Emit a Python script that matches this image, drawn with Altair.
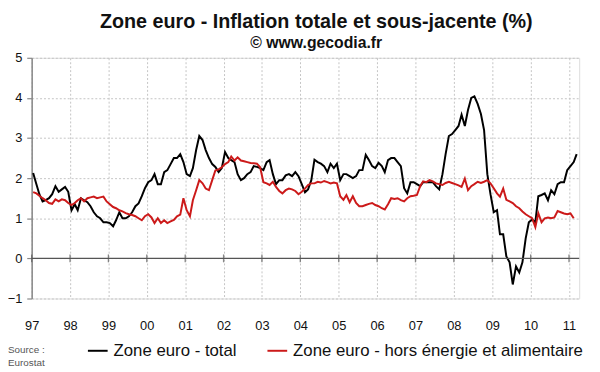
import altair as alt
import pandas as pd

# ---- data (annual rate, %), monthly from Jan 1997 ----
total_1997 = [2.13, 1.85, 1.6, 1.42, 1.45, 1.5, 1.6, 1.8, 1.66, 1.72, 1.78, 1.66]
total_1998 = [1.2, 1.35, 1.2, 1.5, 1.45, 1.4, 1.3, 1.15, 1.05, 1.0, 0.9, 0.9]
total_1999 = [0.88, 0.8, 0.95, 1.15, 1.0, 1.0, 1.05, 1.15, 1.3, 1.37, 1.55, 1.75]
total_2000 = [1.9, 1.95, 2.1, 1.85, 1.85, 2.15, 2.2, 2.35, 2.5, 2.5, 2.6, 2.4]
total_2001 = [2.1, 2.05, 2.25, 2.7, 3.05, 2.95, 2.7, 2.5, 2.35, 2.28, 2.15, 2.25]
total_2002 = [2.65, 2.5, 2.45, 2.4, 2.1, 1.95, 2.0, 2.1, 2.15, 2.3, 2.28, 2.25]
total_2003 = [2.2, 2.4, 2.45, 2.1, 1.85, 1.95, 1.95, 2.07, 2.1, 2.05, 2.15, 2.05]
total_2004 = [1.85, 1.65, 1.72, 1.95, 2.46, 2.4, 2.36, 2.3, 2.15, 2.36, 2.25, 2.36]
total_2005 = [1.95, 2.1, 2.1, 2.05, 2.0, 2.05, 2.2, 2.2, 2.58, 2.45, 2.3, 2.25]
total_2006 = [2.38, 2.3, 2.15, 2.45, 2.5, 2.5, 2.4, 2.3, 1.75, 1.62, 1.9, 1.9]
total_2007 = [1.85, 1.8, 1.9, 1.9, 1.9, 1.9, 1.8, 1.72, 2.1, 2.6, 3.05, 3.1]
total_2008 = [3.2, 3.3, 3.58, 3.3, 3.7, 4.0, 4.04, 3.85, 3.6, 3.2, 2.1, 1.6]
total_2009 = [1.15, 1.2, 0.6, 0.6, 0.05, -0.1, -0.65, -0.2, -0.35, -0.1, 0.5, 0.9]
total_2010 = [0.97, 0.9, 1.55, 1.58, 1.62, 1.45, 1.7, 1.6, 1.85, 1.9, 1.9, 2.2]
total_2011 = [2.3, 2.4, 2.6]

core_1997 = [1.65, 1.62, 1.56, 1.5, 1.45, 1.38, 1.36, 1.47, 1.42, 1.47, 1.45, 1.38]
core_1998 = [1.33, 1.38, 1.45, 1.5, 1.42, 1.5, 1.52, 1.54, 1.5, 1.52, 1.54, 1.42]
core_1999 = [1.35, 1.28, 1.25, 1.2, 1.17, 1.13, 1.1, 1.08, 1.05, 1.0, 0.95, 1.05]
core_2000 = [1.1, 1.02, 0.88, 1.0, 0.88, 0.95, 0.88, 0.92, 0.96, 1.05, 1.09, 1.5]
core_2001 = [1.2, 1.05, 1.45, 1.7, 1.95, 1.87, 1.74, 1.7, 1.95, 2.19, 2.22, 2.27]
core_2002 = [2.35, 2.4, 2.54, 2.44, 2.52, 2.44, 2.42, 2.4, 2.38, 2.37, 2.36, 2.27]
core_2003 = [1.9, 1.87, 1.83, 1.91, 1.78, 1.68, 1.62, 1.7, 1.74, 1.72, 1.68, 1.6]
core_2004 = [1.66, 1.74, 1.83, 1.87, 1.87, 1.91, 1.89, 1.93, 1.9, 1.87, 1.89, 1.87]
core_2005 = [1.55, 1.46, 1.58, 1.4, 1.55, 1.38, 1.3, 1.3, 1.33, 1.36, 1.38, 1.33]
core_2006 = [1.3, 1.25, 1.22, 1.35, 1.5, 1.48, 1.5, 1.45, 1.42, 1.5, 1.55, 1.56]
core_2007 = [1.58, 1.8, 1.92, 1.9, 1.95, 1.92, 1.87, 1.85, 1.83, 1.88, 1.91, 1.88]
core_2008 = [1.85, 1.82, 1.78, 1.99, 1.7, 1.8, 1.85, 1.91, 1.88, 1.91, 1.95, 1.87]
core_2009 = [1.75, 1.62, 1.54, 1.74, 1.46, 1.42, 1.38, 1.3, 1.25, 1.17, 1.1, 1.05]
core_2010 = [1.0, 0.78, 1.13, 0.9, 1.0, 1.02, 1.0, 1.02, 1.18, 1.15, 1.12, 1.1]
core_2011 = [1.12, 1.0]

series_names = ["Zone euro - total", "Zone euro - hors énergie et alimentaire"]
series_colors = ["#000000", "#cc1a1a"]
years = list(range(1997, 2012))
y_ticks = [-1, 0, 1, 2, 3, 4, 5]
source_lines = ["", "Source :", "Eurostat"]

total = (total_1997 + total_1998 + total_1999 + total_2000 + total_2001 + total_2002
         + total_2003 + total_2004 + total_2005 + total_2006 + total_2007 + total_2008
         + total_2009 + total_2010 + total_2011)
core = (core_1997 + core_1998 + core_1999 + core_2000 + core_2001 + core_2002
        + core_2003 + core_2004 + core_2005 + core_2006 + core_2007 + core_2008
        + core_2009 + core_2010 + core_2011)


def month_date(i):
    y = 1997 + i // 12
    m = i % 12 + 1
    return f"{y}/{m:02d}/15"


rows = []
for i, v in enumerate(total):
    rows.append({"date": month_date(i), "value": v, "serie": series_names[0]})
for i, v in enumerate(core):
    rows.append({"date": month_date(i), "value": v, "serie": series_names[1]})
df = pd.DataFrame(rows)

df_years = pd.DataFrame({"date": [f"{y}/01/01" for y in years]})
df_zero = pd.DataFrame({"y": [0]})

FONT = "Liberation Sans"

x_scale = alt.Scale(domain=[alt.DateTime(year=1997, month=1, date=1),
                            alt.DateTime(year=2011, month=4, date=8)], nice=False)
y_scale = alt.Scale(domain=[-1, 5], nice=False, zero=False)

x_axis = alt.Axis(format="%y", title=None,
                  values=[alt.DateTime(year=y, month=1, date=1) for y in years],
                  grid=True, gridColor="#c4c4c4", gridDash=[2, 2], gridWidth=1,
                  ticks=False, domain=False, labelFont=FONT, labelFontSize=13,
                  labelColor="#111", labelPadding=21, labelOverlap=False,
                  labelFlush=False, labelBound=False, labelSeparation=0)
y_axis = alt.Axis(values=y_ticks, title=None, grid=True, gridColor="#c4c4c4",
                  gridDash=[2, 2], gridWidth=1, tickSize=5, tickColor="#888",
                  tickWidth=1.2, domainColor="#888", domainWidth=1.5,
                  labelFont=FONT, labelFontSize=13, labelColor="#111", labelPadding=5)

lines = alt.Chart(df).mark_line(strokeWidth=2).encode(
    x=alt.X("date:T", scale=x_scale, axis=x_axis),
    y=alt.Y("value:Q", scale=y_scale, axis=y_axis),
    color=alt.Color("serie:N", sort=series_names,
                    scale=alt.Scale(domain=series_names, range=series_colors),
                    legend=alt.Legend(
                        title=source_lines, titleOrient="left",
                        titleAnchor="middle", titleBaseline="middle",
                        titleFont=FONT, titleFontSize=10, titleFontWeight="normal",
                        titleColor="#555", titleLineHeight=13, titlePadding=42,
                        orient="none", legendX=-24, legendY=286,
                        direction="horizontal", symbolType="stroke",
                        symbolSize=400, symbolStrokeWidth=2, labelFont=FONT,
                        labelFontSize=17, labelColor="#111", labelLimit=400,
                        labelOffset=5, columnPadding=27)),
)

zero_rule = alt.Chart(df_zero).mark_rule(color="#555", strokeWidth=1.5).encode(
    y=alt.Y("y:Q", scale=y_scale, axis=y_axis))

zero_ticks = alt.Chart(df_years).mark_tick(orient="vertical", color="#555", size=8,
                                           thickness=1.3).encode(
    x=alt.X("date:T", scale=x_scale, axis=x_axis),
    y=alt.datum(0))

chart = alt.layer(lines, zero_rule, zero_ticks).properties(
    width=555, height=244,
    autosize=alt.AutoSizeParams(type="none"),
    padding={"left": 24, "top": 48, "right": 13, "bottom": 70},
    title=alt.TitleParams(
        text="Zone euro - Inflation totale et sous-jacente (%)",
        subtitle="© www.gecodia.fr",
        font=FONT, fontSize=20, fontWeight="bold", color="#111",
        subtitleFont=FONT, subtitleFontSize=16, subtitleFontWeight="bold",
        subtitleColor="#111", subtitlePadding=3, anchor="middle", dx=11, offset=1),
).configure_view(stroke="#888", strokeWidth=1.5).configure(background="white")

chart.save("out.html", embed_options={"renderer": "svg", "actions": False})
